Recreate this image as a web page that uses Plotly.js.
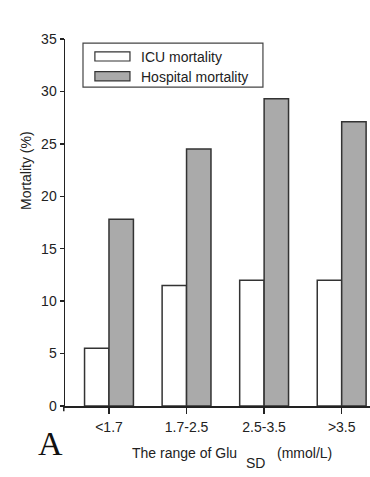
<!DOCTYPE html>
<html>
<head>
<meta charset="utf-8">
<script src="https://cdn.plot.ly/plotly-3.0.1.min.js"></script>
<style>
  html, body { margin: 0; padding: 0; background: #fff; }
  #chart { width: 370px; height: 477px; }
</style>
</head>
<body>
<div id="chart"></div>
<script>
// GluSD ranges (mmol/L) and mortality (%) per range
const ranges = ['<1.7', '1.7-2.5', '2.5-3.5', '>3.5'];
const icuMortality = [5.5, 11.5, 12.0, 12.0];
const hospitalMortality = [17.8, 24.5, 29.3, 27.1];
const seriesNames = ['ICU mortality', 'Hospital mortality'];
const yTicks = [0, 5, 10, 15, 20, 25, 30, 35];

const ink = '#222';
const grey = '#aaaaaa';
const font = { family: 'Liberation Sans, Arial, sans-serif', size: 14, color: ink };

const traces = [
  {
    type: 'bar', name: seriesNames[0], x: ranges, y: icuMortality,
    marker: { color: '#ffffff', line: { color: '#333', width: 1.5 } },
    showlegend: false, hoverinfo: 'x+y'
  },
  {
    type: 'bar', name: seriesNames[1], x: ranges, y: hospitalMortality,
    marker: { color: grey, line: { color: '#333', width: 1.5 } },
    showlegend: false, hoverinfo: 'x+y'
  }
];

// hand-drawn legend box, in paper coordinates
const shapes = [
  { type: 'rect', xref: 'paper', yref: 'paper', x0: 0.059, x1: 0.649, y0: 0.869, y1: 0.989,
    line: { color: '#444', width: 1.2 }, fillcolor: '#fff' },
  { type: 'rect', xref: 'paper', yref: 'paper', x0: 0.098, x1: 0.213, y0: 0.940, y1: 0.965,
    line: { color: '#333', width: 1.2 }, fillcolor: '#fff' },
  { type: 'rect', xref: 'paper', yref: 'paper', x0: 0.098, x1: 0.213, y0: 0.886, y1: 0.911,
    line: { color: '#333', width: 1.2 }, fillcolor: grey },
  // short stub where the two axes meet
  { type: 'line', xref: 'paper', yref: 'paper', x0: -0.004, x1: -0.004, y0: 0, y1: -0.014,
    line: { color: ink, width: 1.5 } }
];

const annotations = [
  { xref: 'paper', yref: 'paper', x: 0.243, y: 0.952, xanchor: 'left', yanchor: 'middle',
    text: seriesNames[0], showarrow: false, font: font },
  { xref: 'paper', yref: 'paper', x: 0.243, y: 0.897, xanchor: 'left', yanchor: 'middle',
    text: seriesNames[1], showarrow: false, font: font },
  { xref: 'paper', yref: 'paper', x: -0.128, y: 0.643, xanchor: 'center', yanchor: 'middle',
    text: 'Mortality (%)', textangle: -90, showarrow: false, font: font },
  // x-axis title, with a full-size lowered "SD"
  { xref: 'paper', yref: 'paper', x: 0.213, y: -0.128, xanchor: 'left', yanchor: 'middle',
    text: 'The range of Glu', showarrow: false, font: font },
  { xref: 'paper', yref: 'paper', x: 0.587, y: -0.155, xanchor: 'left', yanchor: 'middle',
    text: 'SD', showarrow: false, font: font },
  { xref: 'paper', yref: 'paper', x: 0.6885, y: -0.128, xanchor: 'left', yanchor: 'middle',
    text: '(mmol/L)', showarrow: false, font: font },
  { xref: 'paper', yref: 'paper', x: -0.048, y: -0.103, xanchor: 'center', yanchor: 'middle',
    text: 'A', showarrow: false,
    font: { family: 'Liberation Serif, Times New Roman, serif', size: 34, color: '#111' } }
];

const layout = {
  width: 370, height: 477,
  margin: { l: 65, r: 0, t: 39, b: 71, pad: 0 },
  paper_bgcolor: '#fff', plot_bgcolor: '#fff',
  font: font,
  barmode: 'group', bargap: 0.37, bargroupgap: 0,
  showlegend: false,
  xaxis: {
    type: 'category', range: [-0.567, 3.365],
    showline: true, linecolor: ink, linewidth: 1.5,
    ticks: 'outside', ticklen: 6, tickwidth: 1.5, tickcolor: ink,
    ticklabelstandoff: 2,
    showgrid: false, zeroline: false, fixedrange: true,
    tickfont: font
  },
  yaxis: {
    range: [0, 35], tickvals: yTicks,
    showline: true, linecolor: ink, linewidth: 1.5,
    ticks: 'outside', ticklen: 4, tickwidth: 1.5, tickcolor: ink,
    showgrid: false, zeroline: false, fixedrange: true,
    tickfont: font
  },
  shapes: shapes,
  annotations: annotations
};

Plotly.newPlot('chart', traces, layout, { displayModeBar: false, staticPlot: true });
</script>
</body>
</html>
